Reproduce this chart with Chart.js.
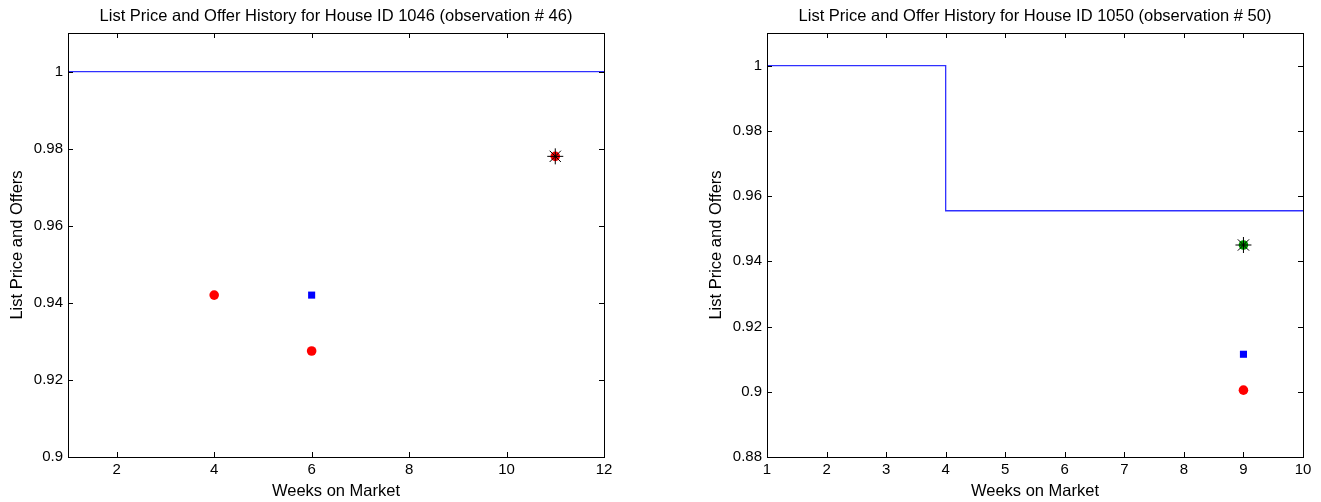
<!DOCTYPE html>
<html>
<head>
<meta charset="utf-8">
<script src="https://cdn.jsdelivr.net/npm/chart.js@4/dist/chart.umd.min.js"></script>
<style>
  body { margin: 0; background: #fff; }
  .wrap { position: absolute; top: 0; height: 502px; }
  #w1 { left: 0; width: 660px; }
  #w2 { left: 660px; width: 661px; }
</style>
</head>
<body>
<div class="wrap" id="w1"><canvas id="c1"></canvas></div>
<div class="wrap" id="w2"><canvas id="c2"></canvas></div>
<script>
// house 1046
var title1 = 'List Price and Offer History for House ID 1046 (observation # 46)';
var listWeeks1 = [1, 12];
var listPrice1 = [1, 1];
var redWeeks1 = [4, 6, 11];
var redVals1 = [0.942, 0.9275, 0.978];
var blueWeeks1 = [6];
var blueVals1 = [0.942];
var greenWeeks1 = [];
var greenVals1 = [];
var starWeeks1 = [11];
var starVals1 = [0.978];
var xTicks1 = [2, 4, 6, 8, 10, 12];
var yTicks1 = [0.9, 0.92, 0.94, 0.96, 0.98, 1];

// house 1050
var title2 = 'List Price and Offer History for House ID 1050 (observation # 50)';
var listWeeks2 = [1, 4, 10];
var listPrice2 = [1, 0.9555, 0.9555];
var redWeeks2 = [9];
var redVals2 = [0.9005];
var blueWeeks2 = [9];
var blueVals2 = [0.9115];
var greenWeeks2 = [9];
var greenVals2 = [0.945];
var starWeeks2 = [9];
var starVals2 = [0.945];
var xTicks2 = [1, 2, 3, 4, 5, 6, 7, 8, 9, 10];
var yTicks2 = [0.88, 0.9, 0.92, 0.94, 0.96, 0.98, 1];

var xLabel = 'Weeks on Market';
var yLabel = 'List Price and Offers';
var FONT = '"Liberation Sans", Arial, Helvetica, sans-serif';

function pts(xs, ys) {
    return xs.map(function (x, i) { return {x: x, y: ys[i]}; });
}

// matlab style box, inward ticks and labels
const matlabFrame = {
    id: 'matlabFrame',
    afterDraw(chart, args, opts) {
        const ctx = chart.ctx;
        const a = chart.chartArea;
        const xs = chart.scales.x, ys = chart.scales.y;
        ctx.save();
        ctx.strokeStyle = '#000';
        ctx.lineWidth = 1;
        ctx.strokeRect(Math.round(a.left) + 0.5, Math.round(a.top) + 0.5,
            Math.round(a.right - a.left), Math.round(a.bottom - a.top));
        ctx.beginPath();
        var tl = 5;
        opts.xTicks.forEach(function (v) {
            var px = Math.round(xs.getPixelForValue(v)) + 0.5;
            ctx.moveTo(px, a.bottom); ctx.lineTo(px, a.bottom - tl);
            ctx.moveTo(px, a.top); ctx.lineTo(px, a.top + tl);
        });
        opts.yTicks.forEach(function (v) {
            var py = Math.round(ys.getPixelForValue(v)) + 0.5;
            ctx.moveTo(a.left, py); ctx.lineTo(a.left + tl, py);
            ctx.moveTo(a.right, py); ctx.lineTo(a.right - tl, py);
        });
        ctx.stroke();
        ctx.fillStyle = '#000';
        ctx.font = '16.5px ' + FONT;
        var cx = (a.left + a.right) / 2;
        ctx.textAlign = 'center';
        ctx.textBaseline = 'middle';
        ctx.fillText(opts.title, cx, 16);
        ctx.fillText(xLabel, cx, 491);
        ctx.save();
        ctx.translate(opts.yLabelX, (a.top + a.bottom) / 2);
        ctx.rotate(-Math.PI / 2);
        ctx.fillText(yLabel, 0, 0);
        ctx.restore();
        ctx.restore();
    }
};

function makeChart(id, d) {
    var datasets = [
        {type: 'line', data: pts(d.listWeeks, d.listPrice), borderColor: '#3030ff', borderWidth: 1.3,
         pointRadius: 0, stepped: 'before', fill: false, order: 5},
        {type: 'scatter', data: pts(d.redWeeks, d.redVals), backgroundColor: '#ff0000', borderColor: '#ff0000',
         pointStyle: 'circle', pointRadius: 4.8, borderWidth: 0, order: 4},
        {type: 'scatter', data: pts(d.blueWeeks, d.blueVals), backgroundColor: '#0000ff', borderColor: '#0000ff',
         pointStyle: 'rect', pointRadius: 5, borderWidth: 0, order: 3},
        {type: 'scatter', data: pts(d.greenWeeks, d.greenVals), backgroundColor: '#00a000', borderColor: '#00a000',
         pointStyle: 'circle', pointRadius: 4.8, borderWidth: 0, order: 2},
        {type: 'scatter', data: pts(d.starWeeks, d.starVals), backgroundColor: '#000', borderColor: '#000',
         pointStyle: 'star', pointRadius: 8, borderWidth: 1, order: 1}
    ];
    return new Chart(document.getElementById(id), {
        type: 'scatter',
        data: {datasets: datasets},
        options: {
            responsive: true,
            maintainAspectRatio: false,
            animation: false,
            layout: {padding: {top: 33, right: d.padRight, left: 0, bottom: 0}},
            plugins: {
                legend: {display: false},
                tooltip: {enabled: false},
                matlabFrame: {title: d.title, xTicks: d.xTicks, yTicks: d.yTicks, yLabelX: d.yLabelX}
            },
            scales: {
                x: {
                    type: 'linear', min: d.xMin, max: d.xMax,
                    grid: {display: false, drawTicks: false, tickLength: 0}, border: {display: false},
                    ticks: {color: '#000', font: {family: FONT, size: 15}, padding: 4, maxRotation: 0,
                        callback: function (v) { return v; }},
                    afterBuildTicks: function (s) { s.ticks = d.xTicks.map(function (v) { return {value: v}; }); },
                    afterFit: function (s) { s.height = 45; }
                },
                y: {
                    type: 'linear', min: d.yMin, max: d.yMax,
                    grid: {display: false, drawTicks: false, tickLength: 0}, border: {display: false},
                    ticks: {color: '#000', font: {family: FONT, size: 15}, padding: 5,
                        callback: function (v) { return String(+v.toFixed(2)); }},
                    afterBuildTicks: function (s) { s.ticks = d.yTicks.map(function (v) { return {value: v}; }); },
                    afterFit: function (s) { s.width = d.yWidth; }
                }
            }
        },
        plugins: [matlabFrame]
    });
}

makeChart('c1', {
    title: title1, listWeeks: listWeeks1, listPrice: listPrice1,
    redWeeks: redWeeks1, redVals: redVals1, blueWeeks: blueWeeks1, blueVals: blueVals1,
    greenWeeks: greenWeeks1, greenVals: greenVals1, starWeeks: starWeeks1, starVals: starVals1,
    xTicks: xTicks1, yTicks: yTicks1, xMin: 1, xMax: 12, yMin: 0.9, yMax: 1.01,
    yWidth: 68, padRight: 56, yLabelX: 17
});
makeChart('c2', {
    title: title2, listWeeks: listWeeks2, listPrice: listPrice2,
    redWeeks: redWeeks2, redVals: redVals2, blueWeeks: blueWeeks2, blueVals: blueVals2,
    greenWeeks: greenWeeks2, greenVals: greenVals2, starWeeks: starWeeks2, starVals: starVals2,
    xTicks: xTicks2, yTicks: yTicks2, xMin: 1, xMax: 10, yMin: 0.88, yMax: 1.01,
    yWidth: 107, padRight: 18, yLabelX: 56
});
</script>
</body>
</html>
